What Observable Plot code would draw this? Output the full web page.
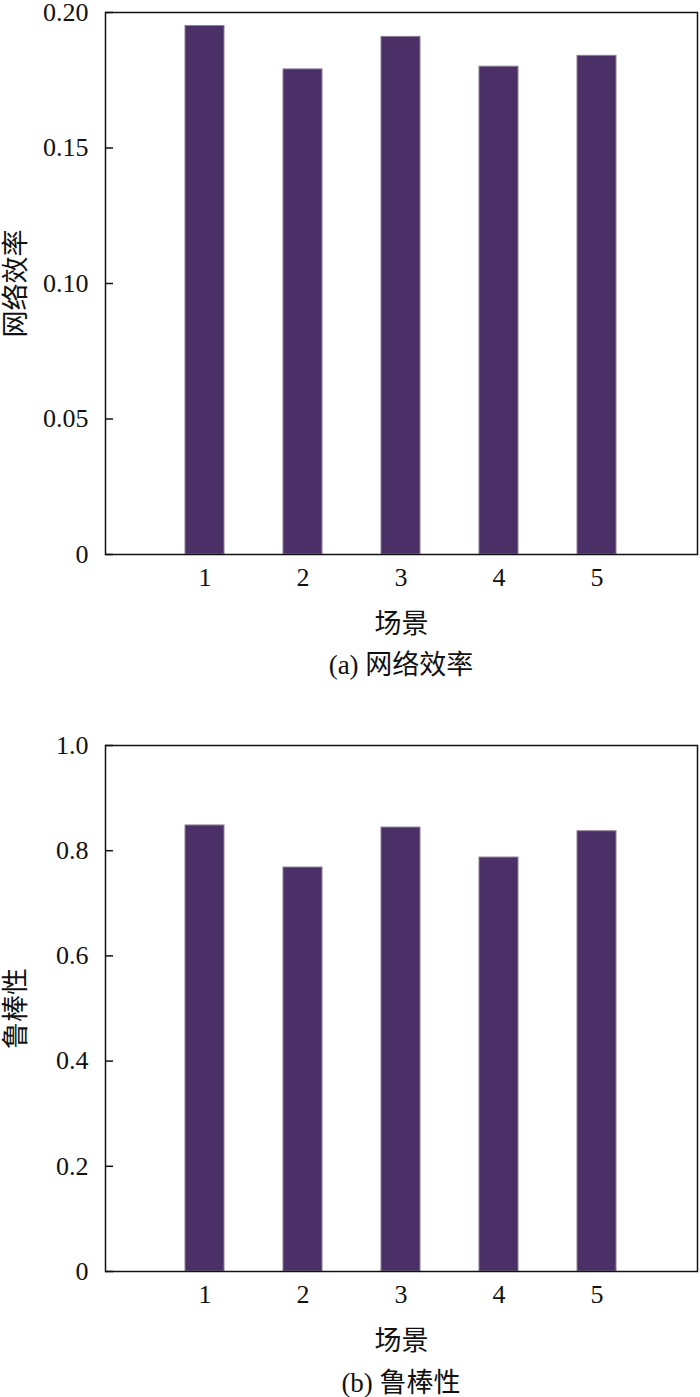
<!DOCTYPE html>
<html>
<head>
<meta charset="utf-8">
<script src="https://cdn.jsdelivr.net/npm/d3@7"></script>
<script src="https://cdn.jsdelivr.net/npm/@observablehq/plot@0.6"></script>
<style>
  body { margin: 0; background: #fff; }
  #wrap { position: relative; width: 700px; height: 1397px; font-family: "Liberation Serif", "Noto Sans CJK SC", serif; }
  .panel { position: absolute; left: 0; }
  .panel svg { overflow: visible; }
  .cap { position: absolute; left: 0; width: 700px; text-align: center; font-size: 27px; line-height: 30px; color: #111; padding-left: 102px; box-sizing: border-box; }
</style>
</head>
<body>
<div id="wrap">
  <div class="panel" id="pa" style="top:0"></div>
  <div class="cap" style="top:650px">(a) 网络效率</div>
  <div class="panel" id="pb" style="top:700px"></div>
  <div class="cap" style="top:1368px">(b) 鲁棒性</div>
</div>
<script>
const scenes = [1, 2, 3, 4, 5];
const efficiency = [0.195, 0.179, 0.191, 0.180, 0.184];
const robustness = [0.848, 0.768, 0.844, 0.787, 0.837];
const effTicks = [0, 0.05, 0.10, 0.15, 0.20];
const effTickLabels = ["0", "0.05", "0.10", "0.15", "0.20"];
const robTicks = [0, 0.2, 0.4, 0.6, 0.8, 1.0];
const robTickLabels = ["0", "0.2", "0.4", "0.6", "0.8", "1.0"];
const xLabel = "场景";

function panel({values, yDomain, ticks, labels, yLabel, height, marginTop, marginBottom}) {
  const data = scenes.map((s, i) => ({s, v: values[i]}));
  return Plot.plot({
    width: 700,
    height,
    marginTop,
    marginBottom,
    marginLeft: 105,
    marginRight: 3,
    style: {fontFamily: '"Liberation Serif", "Noto Sans CJK SC", serif', fontSize: "26px", color: "#111", background: "#fff", overflow: "visible"},
    x: {type: "band", domain: scenes, paddingInner: 0.6, paddingOuter: 0.79},
    y: {domain: yDomain},
    marks: [
      Plot.barY(data, {x: "s", y: "v", fill: "#4b3068", stroke: "#8a8090", strokeWidth: 1}),
      Plot.frame({stroke: "#111", strokeWidth: 1.5}),
      Plot.axisY({ticks, tickFormat: (d) => labels[ticks.indexOf(d)], tickSize: -8, tickPadding: 25, strokeWidth: 1.5, fontSize: 26,
        label: null}),
      Plot.axisY({ticks: [], label: yLabel, labelAnchor: "center", labelArrow: "none", labelOffset: 100, fontSize: 27}),
      Plot.axisX({tickSize: 0, tickPadding: 13, fontSize: 26, label: null}),
      Plot.axisX({ticks: [], label: xLabel, labelAnchor: "center", labelArrow: "none", labelOffset: 78, fontSize: 27})
    ]
  });
}

document.getElementById("pa").append(panel({
  values: efficiency, yDomain: [0, 0.2], ticks: effTicks, labels: effTickLabels, yLabel: "网络效率",
  height: 644, marginTop: 12, marginBottom: 90
}));
document.getElementById("pb").append(panel({
  values: robustness, yDomain: [0, 1.0], ticks: robTicks, labels: robTickLabels, yLabel: "鲁棒性",
  height: 670, marginTop: 45, marginBottom: 99
}));
</script>
</body>
</html>
